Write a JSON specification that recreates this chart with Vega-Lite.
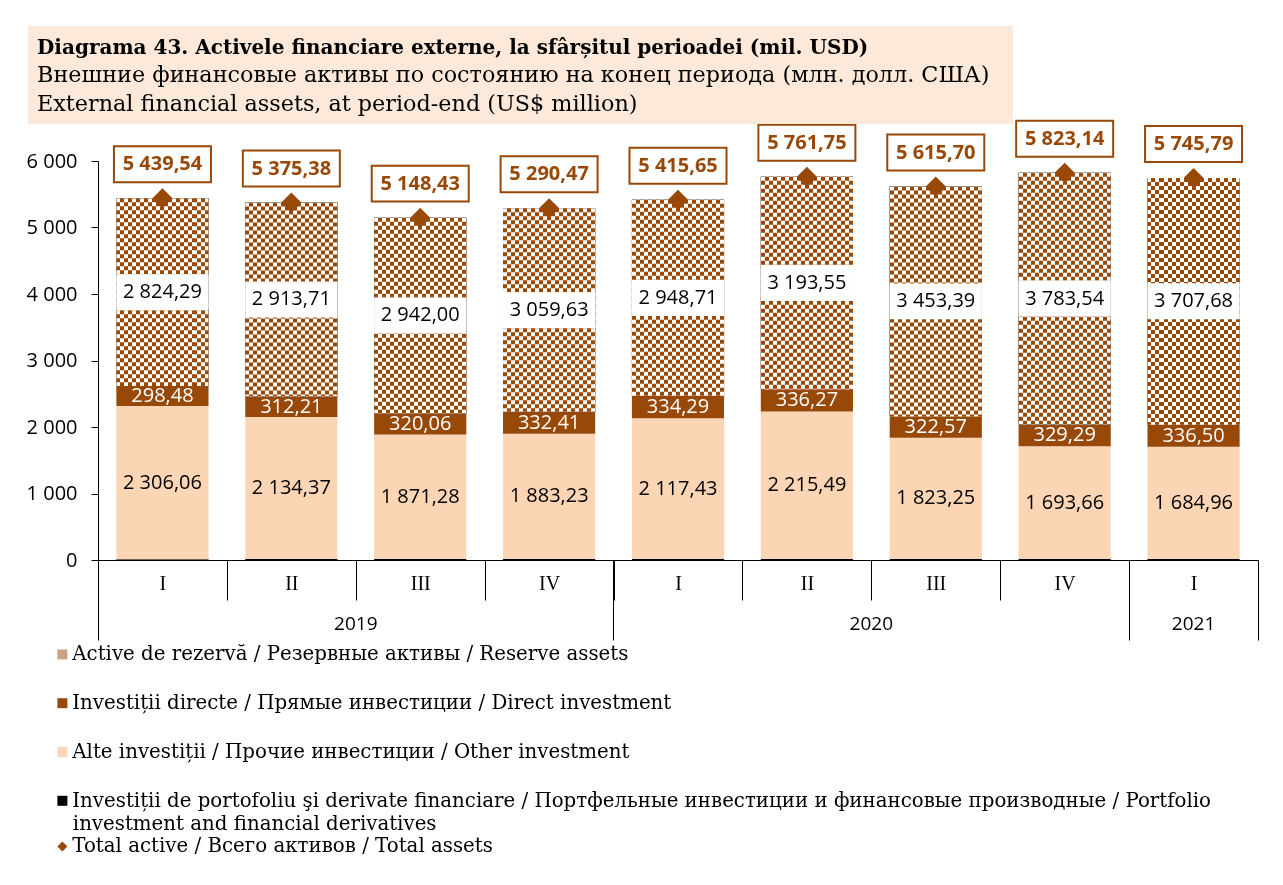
{
  "$schema": "https://vega.github.io/schema/vega-lite/v6.json",
  "width": 1160,
  "height": 399,
  "autosize": "none",
  "padding": {"left": 98, "top": 161, "right": 25, "bottom": 325},
  "background": "white",
  "config": {
    "view": {"stroke": null},
    "font": "Open Sans",
    "locale": {"number": {"decimal": ",", "thousands": " ", "grouping": [3], "currency": ["", ""]}},
    "axisY": {"grid": false}
  },
  "title": {
    "text": "Diagrama 43. Activele financiare externe, la sfârșitul perioadei (mil. USD)",
    "subtitle": ["Внешние финансовые активы по состоянию на конец периода (млн. долл. США)", "External financial assets, at period-end (US$ million)"],
    "anchor": "start",
    "frame": "group",
    "orient": "top",
    "dx": -61,
    "offset": -89,
    "font": "DejaVu Serif",
    "fontSize": 20,
    "fontWeight": "bold",
    "color": "#000000",
    "subtitleFont": "DejaVu Serif",
    "subtitleFontSize": 22.3,
    "subtitleColor": "#000000",
    "subtitleLineHeight": 29,
    "subtitlePadding": 6
  },
  "data": {
    "values": [
      {"p": "2019-I", "other": 2306.06, "direct": 298.48, "reserve": 2824.29, "portfolio": 10.71, "total": 5439.54},
      {"p": "2019-II", "other": 2134.37, "direct": 312.21, "reserve": 2913.71, "portfolio": 15.09, "total": 5375.38},
      {"p": "2019-III", "other": 1871.28, "direct": 320.06, "reserve": 2942.00, "portfolio": 15.09, "total": 5148.43},
      {"p": "2019-IV", "other": 1883.23, "direct": 332.41, "reserve": 3059.63, "portfolio": 15.20, "total": 5290.47},
      {"p": "2020-I", "other": 2117.43, "direct": 334.29, "reserve": 2948.71, "portfolio": 15.22, "total": 5415.65},
      {"p": "2020-II", "other": 2215.49, "direct": 336.27, "reserve": 3193.55, "portfolio": 16.44, "total": 5761.75},
      {"p": "2020-III", "other": 1823.25, "direct": 322.57, "reserve": 3453.39, "portfolio": 16.49, "total": 5615.70},
      {"p": "2020-IV", "other": 1693.66, "direct": 329.29, "reserve": 3783.54, "portfolio": 16.65, "total": 5823.14},
      {"p": "2021-I", "other": 1684.96, "direct": 336.50, "reserve": 3707.68, "portfolio": 16.65, "total": 5745.79}
    ]
  },
  "transform": [
    {"fold": ["portfolio", "other", "direct", "reserve"], "as": ["s", "v"]},
    {"calculate": "indexof(['portfolio','other','direct','reserve'], datum.s)", "as": "k"},
    {"stack": "v", "groupby": ["p"], "sort": [{"field": "k", "order": "ascending"}], "as": ["v0", "v1"]},
    {"calculate": "(datum.v0 + datum.v1) / 2", "as": "mid"}
  ],
  "encoding": {
    "x": {"field": "p", "type": "nominal", "scale": {"paddingInner": 0, "paddingOuter": 0}, "axis": null}
  },
  "resolve": {"axis": {"x": "independent", "y": "independent"}},
  "layer": [
    {
      "mark": {"type": "bar", "width": {"band": 0.715}},
      "encoding": {
        "x": {
          "field": "p", "type": "nominal",
          "scale": {"paddingInner": 0, "paddingOuter": 0},
          "axis": {
            "orient": "bottom", "title": null, "tickBand": "extent", "tickSize": 40,
            "tickColor": "#000000", "domainColor": "#000000", "tickWidth": 1, "domainWidth": 1,
            "labelExpr": "split(datum.value, '-')[1]", "labelAngle": 0,
            "labelFont": "Liberation Serif", "labelFontSize": 20, "labelColor": "#000000", "labelPadding": -27
          }
        },
        "y": {
          "field": "v1", "type": "quantitative", "scale": {"domain": [0, 6000]},
          "axis": {
            "orient": "left", "title": null, "values": [0, 1000, 2000, 3000, 4000, 5000, 6000], "format": ",d",
            "tickSize": 7, "tickColor": "#000000", "domainColor": "#000000", "grid": false,
            "labelFont": "Open Sans", "labelFontSize": 20, "labelColor": "#000000", "labelPadding": 14
          }
        },
        "y2": {"field": "v0"},
        "fill": {
          "field": "s", "type": "nominal",
          "scale": {"domain": ["reserve", "direct", "other", "portfolio"], "range": ["#cba383", "#984807", "#FCD5B5", "#000000"]},
          "legend": {
            "orient": "none", "legendX": -45.5, "legendY": 483.5, "direction": "vertical", "title": null, "padding": 0,
            "labelFont": "DejaVu Serif", "labelFontSize": 19.8, "labelColor": "#000000", "labelLimit": 1300,
            "labelBaseline": "middle", "labelOffset": 0,
            "symbolType": "square", "symbolSize": 100, "symbolStrokeWidth": 0, "rowPadding": 27.8,
            "labelExpr": "datum.value === 'reserve' ? 'Active de rezervă / Резервные активы / Reserve assets' : datum.value === 'direct' ? 'Investiții directe /  Прямые инвестиции / Direct investment' : datum.value === 'other' ? 'Alte investiții / Прочие инвестиции / Other investment' : 'Investiții de portofoliu şi derivate financiare / Портфельные инвестиции и финансовые производные / Portfolio'"
          }
        }
      }
    },
    {
      "transform": [{"filter": "datum.s === 'reserve'"}],
      "mark": {
        "type": "bar", "width": {"band": 0.715},
        "fill": {"gradient": "linear", "x1": 0, "y1": 0, "x2": 1, "y2": 0, "stops": [
          {"offset": 0, "color": "#000000"}, {"offset": 0.0435, "color": "#000000"},
          {"offset": 0.0435, "color": "#ffffff"}, {"offset": 0.087, "color": "#ffffff"},
          {"offset": 0.087, "color": "#000000"}, {"offset": 0.1304, "color": "#000000"},
          {"offset": 0.1304, "color": "#ffffff"}, {"offset": 0.1739, "color": "#ffffff"},
          {"offset": 0.1739, "color": "#000000"}, {"offset": 0.2174, "color": "#000000"},
          {"offset": 0.2174, "color": "#ffffff"}, {"offset": 0.2609, "color": "#ffffff"},
          {"offset": 0.2609, "color": "#000000"}, {"offset": 0.3043, "color": "#000000"},
          {"offset": 0.3043, "color": "#ffffff"}, {"offset": 0.3478, "color": "#ffffff"},
          {"offset": 0.3478, "color": "#000000"}, {"offset": 0.3913, "color": "#000000"},
          {"offset": 0.3913, "color": "#ffffff"}, {"offset": 0.4348, "color": "#ffffff"},
          {"offset": 0.4348, "color": "#000000"}, {"offset": 0.4783, "color": "#000000"},
          {"offset": 0.4783, "color": "#ffffff"}, {"offset": 0.5217, "color": "#ffffff"},
          {"offset": 0.5217, "color": "#000000"}, {"offset": 0.5652, "color": "#000000"},
          {"offset": 0.5652, "color": "#ffffff"}, {"offset": 0.6087, "color": "#ffffff"},
          {"offset": 0.6087, "color": "#000000"}, {"offset": 0.6522, "color": "#000000"},
          {"offset": 0.6522, "color": "#ffffff"}, {"offset": 0.6957, "color": "#ffffff"},
          {"offset": 0.6957, "color": "#000000"}, {"offset": 0.7391, "color": "#000000"},
          {"offset": 0.7391, "color": "#ffffff"}, {"offset": 0.7826, "color": "#ffffff"},
          {"offset": 0.7826, "color": "#000000"}, {"offset": 0.8261, "color": "#000000"},
          {"offset": 0.8261, "color": "#ffffff"}, {"offset": 0.8696, "color": "#ffffff"},
          {"offset": 0.8696, "color": "#000000"}, {"offset": 0.913, "color": "#000000"},
          {"offset": 0.913, "color": "#ffffff"}, {"offset": 0.9565, "color": "#ffffff"},
          {"offset": 0.9565, "color": "#000000"}, {"offset": 1, "color": "#000000"}
        ]}
      },
      "encoding": {
        "y": {"field": "v1", "type": "quantitative", "scale": {"domain": [0, 6000]}, "axis": null},
        "y2": {"field": "v0"}
      }
    },
    {
      "transform": [{"filter": "datum.s === 'reserve'"}],
      "mark": {"type": "rule", "stroke": "#ffffff", "strokeWidth": 92.16, "strokeDash": [4, 4], "strokeCap": "butt", "blend": "difference"},
      "encoding": {
        "y": {"field": "v1", "type": "quantitative", "scale": {"domain": [0, 6000]}, "axis": null},
        "y2": {"field": "v0"}
      }
    },
    {
      "transform": [{"filter": "datum.s === 'reserve'"}],
      "mark": {"type": "bar", "width": {"band": 0.715}, "fill": "#984807", "blend": "screen"},
      "encoding": {
        "y": {"field": "v1", "type": "quantitative", "scale": {"domain": [0, 6000]}, "axis": null},
        "y2": {"field": "v0"}
      }
    },
    {
      "transform": [{"filter": "datum.s === 'reserve'"}],
      "mark": {"type": "point", "shape": "M-1,-0.39H1V0.39H-1Z", "size": 8494, "filled": true, "fill": "#ffffff", "strokeWidth": 0, "opacity": 1},
      "encoding": {
        "y": {"field": "mid", "type": "quantitative", "scale": {"domain": [0, 6000]}, "axis": null}
      }
    },
    {
      "transform": [{"filter": "datum.s !== 'portfolio'"}],
      "mark": {"type": "text", "font": "Open Sans", "fontSize": 20, "baseline": "middle", "align": "center"},
      "encoding": {
        "y": {"field": "mid", "type": "quantitative", "scale": {"domain": [0, 6000]}, "axis": null},
        "text": {"field": "v", "type": "quantitative", "format": ",.2f"},
        "color": {"condition": {"test": "datum.s === 'direct'", "value": "#ffffff"}, "value": "#000000"},
        "opacity": {
          "datum": "investment and financial derivatives", "type": "ordinal",
          "scale": {"range": [1, 1]},
          "legend": {
            "orient": "none", "legendX": -45, "legendY": 653.5, "title": null, "padding": 0,
            "symbolSize": 0, "symbolOpacity": 0, "symbolStrokeWidth": 0,
            "labelFont": "DejaVu Serif", "labelFontSize": 19.8, "labelColor": "#000000", "labelLimit": 1300,
            "labelBaseline": "middle", "labelOffset": 0
          }
        }
      }
    },
    {
      "transform": [{"filter": "datum.s === 'reserve'"}],
      "mark": {"type": "point", "size": 400, "filled": true, "fill": "#984807", "strokeWidth": 0, "opacity": 1},
      "encoding": {
        "x": {
          "field": "p", "type": "nominal",
          "scale": {"paddingInner": 0, "paddingOuter": 0},
          "axis": {
            "orient": "bottom", "title": null, "values": ["2019-I"], "bandPosition": 0,
            "tickSize": 80, "tickColor": "#000000", "tickWidth": 1, "domain": false, "labels": false
          }
        },
        "y": {"field": "total", "type": "quantitative", "scale": {"domain": [0, 6000]}, "axis": null},
        "shape": {
          "datum": "Total active / Всего активов / Total assets", "type": "nominal",
          "scale": {"range": ["diamond"]},
          "legend": {
            "orient": "none", "legendX": -45.5, "legendY": 675.5, "title": null, "padding": 0,
            "symbolSize": 100, "symbolFillColor": "#984807", "symbolStrokeWidth": 0, "symbolOpacity": 1,
            "labelFont": "DejaVu Serif", "labelFontSize": 19.8, "labelColor": "#000000", "labelLimit": 1300,
            "labelBaseline": "middle", "labelOffset": 0
          }
        },
        "stroke": {
          "field": "total", "type": "quantitative",
          "scale": {"range": ["#FDE9D9", "#FDE9D9"]},
          "legend": {
            "orient": "none", "legendX": -70, "legendY": -135, "direction": "horizontal",
            "gradientLength": 985, "gradientThickness": 98, "title": null, "padding": 0,
            "labelOpacity": 0, "labelExpr": "''", "labelFontSize": 1, "gradientStrokeWidth": 0
          }
        }
      }
    },
    {
      "transform": [{"filter": "datum.s === 'reserve'"}],
      "mark": {"type": "point", "shape": "M-1,-1.072H1V-0.33H-1Z", "size": 9409, "filled": true, "fill": "#ffffff", "stroke": "#984807", "strokeWidth": 2, "opacity": 1},
      "encoding": {
        "x": {
          "field": "p", "type": "nominal",
          "scale": {"paddingInner": 0, "paddingOuter": 0},
          "axis": {
            "orient": "bottom", "title": null, "values": ["2019-IV", "2020-IV"], "bandPosition": 1,
            "tickSize": 80, "tickColor": "#000000", "tickWidth": 1, "domain": false,
            "labelExpr": "split(datum.value, '-')[0]", "labelAngle": 0, "labelOffset": -193.33,
            "labelFont": "Open Sans", "labelFontSize": 19, "labelColor": "#000000", "labelPadding": -26
          }
        },
        "y": {"field": "total", "type": "quantitative", "scale": {"domain": [0, 6000]}, "axis": null}
      }
    },
    {
      "transform": [{"filter": "datum.s === 'reserve'"}],
      "mark": {"type": "text", "font": "Open Sans", "fontSize": 20, "fontWeight": "bold", "dy": -34, "baseline": "middle", "align": "center", "fill": "#984807"},
      "encoding": {
        "x": {
          "field": "p", "type": "nominal",
          "scale": {"paddingInner": 0, "paddingOuter": 0},
          "axis": {
            "orient": "bottom", "title": null, "values": ["2021-I"], "bandPosition": 1,
            "tickSize": 80, "tickColor": "#000000", "tickWidth": 1, "domain": false,
            "labelExpr": "split(datum.value, '-')[0]", "labelAngle": 0, "labelOffset": 0,
            "labelFont": "Open Sans", "labelFontSize": 19, "labelColor": "#000000", "labelPadding": -26
          }
        },
        "y": {"field": "total", "type": "quantitative", "scale": {"domain": [0, 6000]}, "axis": null},
        "text": {"field": "total", "type": "quantitative", "format": ",.2f"}
      }
    }
  ]
}
